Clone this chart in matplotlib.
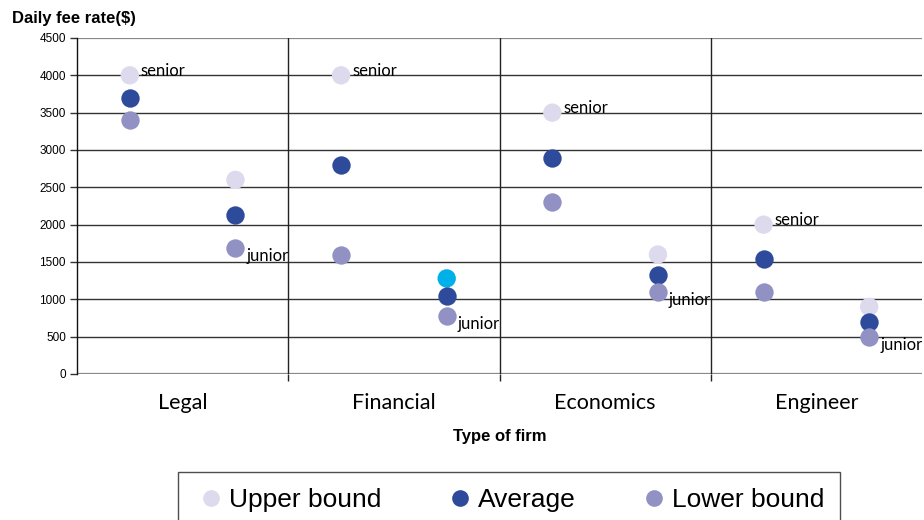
import matplotlib
matplotlib.use("Agg")
import matplotlib.pyplot as plt
from matplotlib.lines import Line2D

# fee ranges per firm type, senior then junior
firms = ["Legal", "Financial", "Economics", "Engineer"]
levels = ["senior", "junior"]
upper = [4000, 2600, 4000, 1280, 3500, 1600, 2000, 900]
average = [3700, 2130, 2800, 1050, 2890, 1330, 1540, 700]
lower = [3400, 1690, 1600, 780, 2300, 1100, 1100, 500]
yticks = [0, 500, 1000, 1500, 2000, 2500, 3000, 3500, 4000, 4500]

c_upper = "#dcdaec"
c_avg = "#2e4a9a"
c_low = "#9191c4"
c_hi = "#00b0e8"   # highlighted point

xs = [i + 0.5 for i in range(len(upper))]
up_colors = [c_upper] * len(upper)
up_colors[3] = c_hi

fig = plt.figure(figsize=(9.24, 5.2), dpi=100)
ax = fig.add_axes([77 / 924, 1 - 374 / 520, 845 / 924, 336 / 520])

for y in yticks:
    col = "#888888" if y in (0, 4500) else "#333333"
    lw = 1.6 if y in (0, 4500) else 1.0
    ax.axhline(y, color=col, lw=lw, zorder=1)
for x in [2, 4, 6]:
    ax.axvline(x, color="#222222", lw=1.0, zorder=1)

ms = 175
ax.scatter(xs, upper, s=ms, c=up_colors, zorder=3, linewidths=0)
ax.scatter(xs, average, s=ms, c=c_avg, zorder=3, linewidths=0)
ax.scatter(xs, lower, s=ms, c=c_low, zorder=3, linewidths=0)

for i, x in enumerate(xs):
    if i % 2 == 0:
        ax.annotate(levels[0], (x, upper[i]), xytext=(8, 3), textcoords="offset points",
                    ha="left", va="center", fontsize=12, family="Lato", zorder=4)
    else:
        ax.annotate(levels[1], (x, lower[i]), xytext=(8, -6), textcoords="offset points",
                    ha="left", va="center", fontsize=12, family="Lato", zorder=4)

ax.set_xlim(0, 8)
ax.set_ylim(0, 4500)
ax.set_yticks(yticks)
ax.set_yticklabels([str(v) for v in yticks], fontsize=8.5, family="Liberation Sans")
ax.tick_params(axis="y", length=5, width=1, color="#333333", pad=3)

ax.set_xticks([2, 4, 6])
ax.set_xticklabels([])
ax.tick_params(axis="x", which="major", length=5, width=1, color="#222222")
ax.set_xticks([1, 3, 5, 7], minor=True)
ax.set_xticklabels(firms, minor=True, fontsize=15.5, family="Lato")
ax.tick_params(axis="x", which="minor", length=0, pad=14)

for side in ["top", "right", "bottom"]:
    ax.spines[side].set_visible(False)
ax.spines["left"].set_color("#111111")
ax.spines["left"].set_linewidth(1.0)

fig.text(12 / 924, 1 - 19 / 520, "Daily fee rate($)", fontsize=12, fontweight="bold",
         family="Liberation Sans", ha="left", va="center")
fig.text(500 / 924, 1 - 437 / 520, "Type of firm", fontsize=12, fontweight="bold",
         family="Liberation Sans", ha="center", va="center")

handles = [Line2D([], [], ls="", marker="o", ms=12, mec="none", mfc=c) for c in (c_upper, c_avg, c_low)]
leg = fig.legend(handles, ["Upper bound", "Average", "Lower bound"], ncol=3,
                 loc="upper left", bbox_to_anchor=(178 / 924, 1 - 472 / 520),
                 prop={"family": "Liberation Sans", "size": 19}, frameon=True, fancybox=False,
                 edgecolor="#222222", handletextpad=0.05, columnspacing=2.3,
                 borderpad=0.6, handlelength=1.3, borderaxespad=0)
leg.get_frame().set_linewidth(1.0)

fig.savefig("out.png", dpi=100)
